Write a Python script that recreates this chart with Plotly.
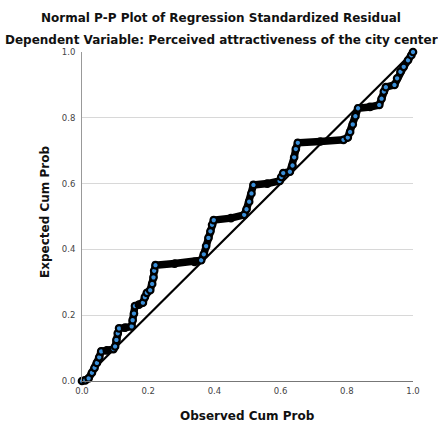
import plotly.graph_objects as go

# Observed cumulative probability (x) and expected cumulative probability (y)
observed = [0.000, 0.010, 0.020, 0.030, 0.038, 0.045, 0.052, 0.058, 0.075, 0.095,
            0.100, 0.104, 0.108, 0.112, 0.130, 0.150, 0.153, 0.157, 0.160, 0.172,
            0.184, 0.190, 0.196, 0.206, 0.212, 0.216, 0.218, 0.222, 0.280, 0.340,
            0.360, 0.368, 0.375, 0.382, 0.388, 0.393, 0.398, 0.450, 0.490, 0.497,
            0.505, 0.512, 0.518, 0.560, 0.597, 0.602, 0.608, 0.628, 0.636, 0.641,
            0.646, 0.652, 0.720, 0.790, 0.803, 0.810, 0.818, 0.826, 0.834, 0.870,
            0.898, 0.905, 0.912, 0.918, 0.944, 0.952, 0.962, 0.972, 0.985, 0.995,
            1.000]
expected = [0.000, 0.002, 0.008, 0.025, 0.040, 0.055, 0.072, 0.090, 0.093, 0.097,
            0.105, 0.125, 0.145, 0.160, 0.162, 0.166, 0.185, 0.205, 0.228, 0.232,
            0.238, 0.255, 0.268, 0.276, 0.295, 0.315, 0.335, 0.352, 0.357, 0.362,
            0.367, 0.385, 0.410, 0.435, 0.455, 0.475, 0.489, 0.495, 0.505, 0.522,
            0.545, 0.570, 0.596, 0.600, 0.608, 0.620, 0.632, 0.636, 0.655, 0.680,
            0.705, 0.724, 0.728, 0.733, 0.740, 0.757, 0.780, 0.805, 0.829, 0.833,
            0.839, 0.858, 0.880, 0.893, 0.900, 0.920, 0.940, 0.955, 0.975, 0.990,
            1.000]

ref_x = [0.0, 1.0]
ref_y = [0.0, 1.0]
tick_vals = [0.0, 0.2, 0.4, 0.6, 0.8, 1.0]
tick_text = ["0.0", "0.2", "0.4", "0.6", "0.8", "1.0"]

title1 = "Normal P-P Plot of Regression Standardized Residual"
title2 = "Dependent Variable: Perceived attractiveness of the city center"
x_title = "Observed Cum Prob"
y_title = "Expected Cum Prob"

L, R, T, B = 82, 25, 52, 49
W, H = 438, 430
pw, ph = W - L - R, H - T - B

def px_x(p):
    return (p - L) / pw

def px_y(p):
    return (H - B - p) / ph

# marker fill: points buried inside dense flat runs look black, steep runs show blue centres
def slope(i, j):
    dx = observed[j] - observed[i]
    return (expected[j] - expected[i]) / dx if dx else 10.0

fills = []
n = len(observed)
for i in range(n):
    left = slope(i - 1, i) if i > 0 else 10.0
    right = slope(i, i + 1) if i < n - 1 else 10.0
    fills.append("black" if (left < 0.5 and right < 0.5) else "#3a8fd9")

fig = go.Figure()
fig.add_trace(go.Scatter(x=ref_x, y=ref_y, mode="lines",
                         line=dict(color="black", width=2.2), hoverinfo="skip",
                         showlegend=False, cliponaxis=False))
fig.add_trace(go.Scatter(x=observed, y=expected, mode="lines",
                         line=dict(color="black", width=7.5), showlegend=False,
                         cliponaxis=False))
fig.add_trace(go.Scatter(x=observed, y=expected, mode="markers",
                         marker=dict(size=6.5, color=fills,
                                     line=dict(color="black", width=2.2)),
                         showlegend=False, cliponaxis=False))

font_main = "DejaVu Sans"
fig.update_layout(
    width=W, height=H,
    margin=dict(l=L, r=R, t=T, b=B),
    paper_bgcolor="white", plot_bgcolor="white",
    font=dict(family=font_main, color="#333"),
    xaxis=dict(range=[0, 1], tickvals=tick_vals, ticktext=tick_text,
               showgrid=False, zeroline=False, showline=True,
               linecolor="#777", linewidth=1, ticks="outside", ticklen=2,
               tickcolor="rgba(0,0,0,0)",
               tickfont=dict(size=8.5, color="#444", family=font_main)),
    yaxis=dict(range=[0, 1], tickvals=tick_vals, ticktext=tick_text,
               showgrid=True, gridcolor="#d8d8d8", gridwidth=1,
               zeroline=False, showline=True, linecolor="#999", linewidth=1,
               ticks="outside", ticklen=4, tickcolor="rgba(0,0,0,0)",
               tickfont=dict(size=8.5, color="#444", family=font_main)),
    annotations=[
        dict(text=title1, x=px_x(221), y=px_y(18), xref="paper", yref="paper",
             showarrow=False, xanchor="center", yanchor="middle",
             font=dict(size=12, color="#111", family=font_main, weight="bold")),
        dict(text=title2, x=px_x(221), y=px_y(40), xref="paper", yref="paper",
             showarrow=False, xanchor="center", yanchor="middle",
             font=dict(size=12, color="#111", family=font_main, weight="bold")),
        dict(text=x_title, x=px_x(247), y=px_y(416), xref="paper", yref="paper",
             showarrow=False, xanchor="center", yanchor="middle",
             font=dict(size=12, color="#111", family=font_main, weight="bold")),
        dict(text=y_title, x=px_x(45), y=px_y(212), xref="paper", yref="paper",
             showarrow=False, xanchor="center", yanchor="middle", textangle=-90,
             font=dict(size=12, color="#111", family=font_main, weight="bold")),
    ],
)

fig.write_html("out.html")
